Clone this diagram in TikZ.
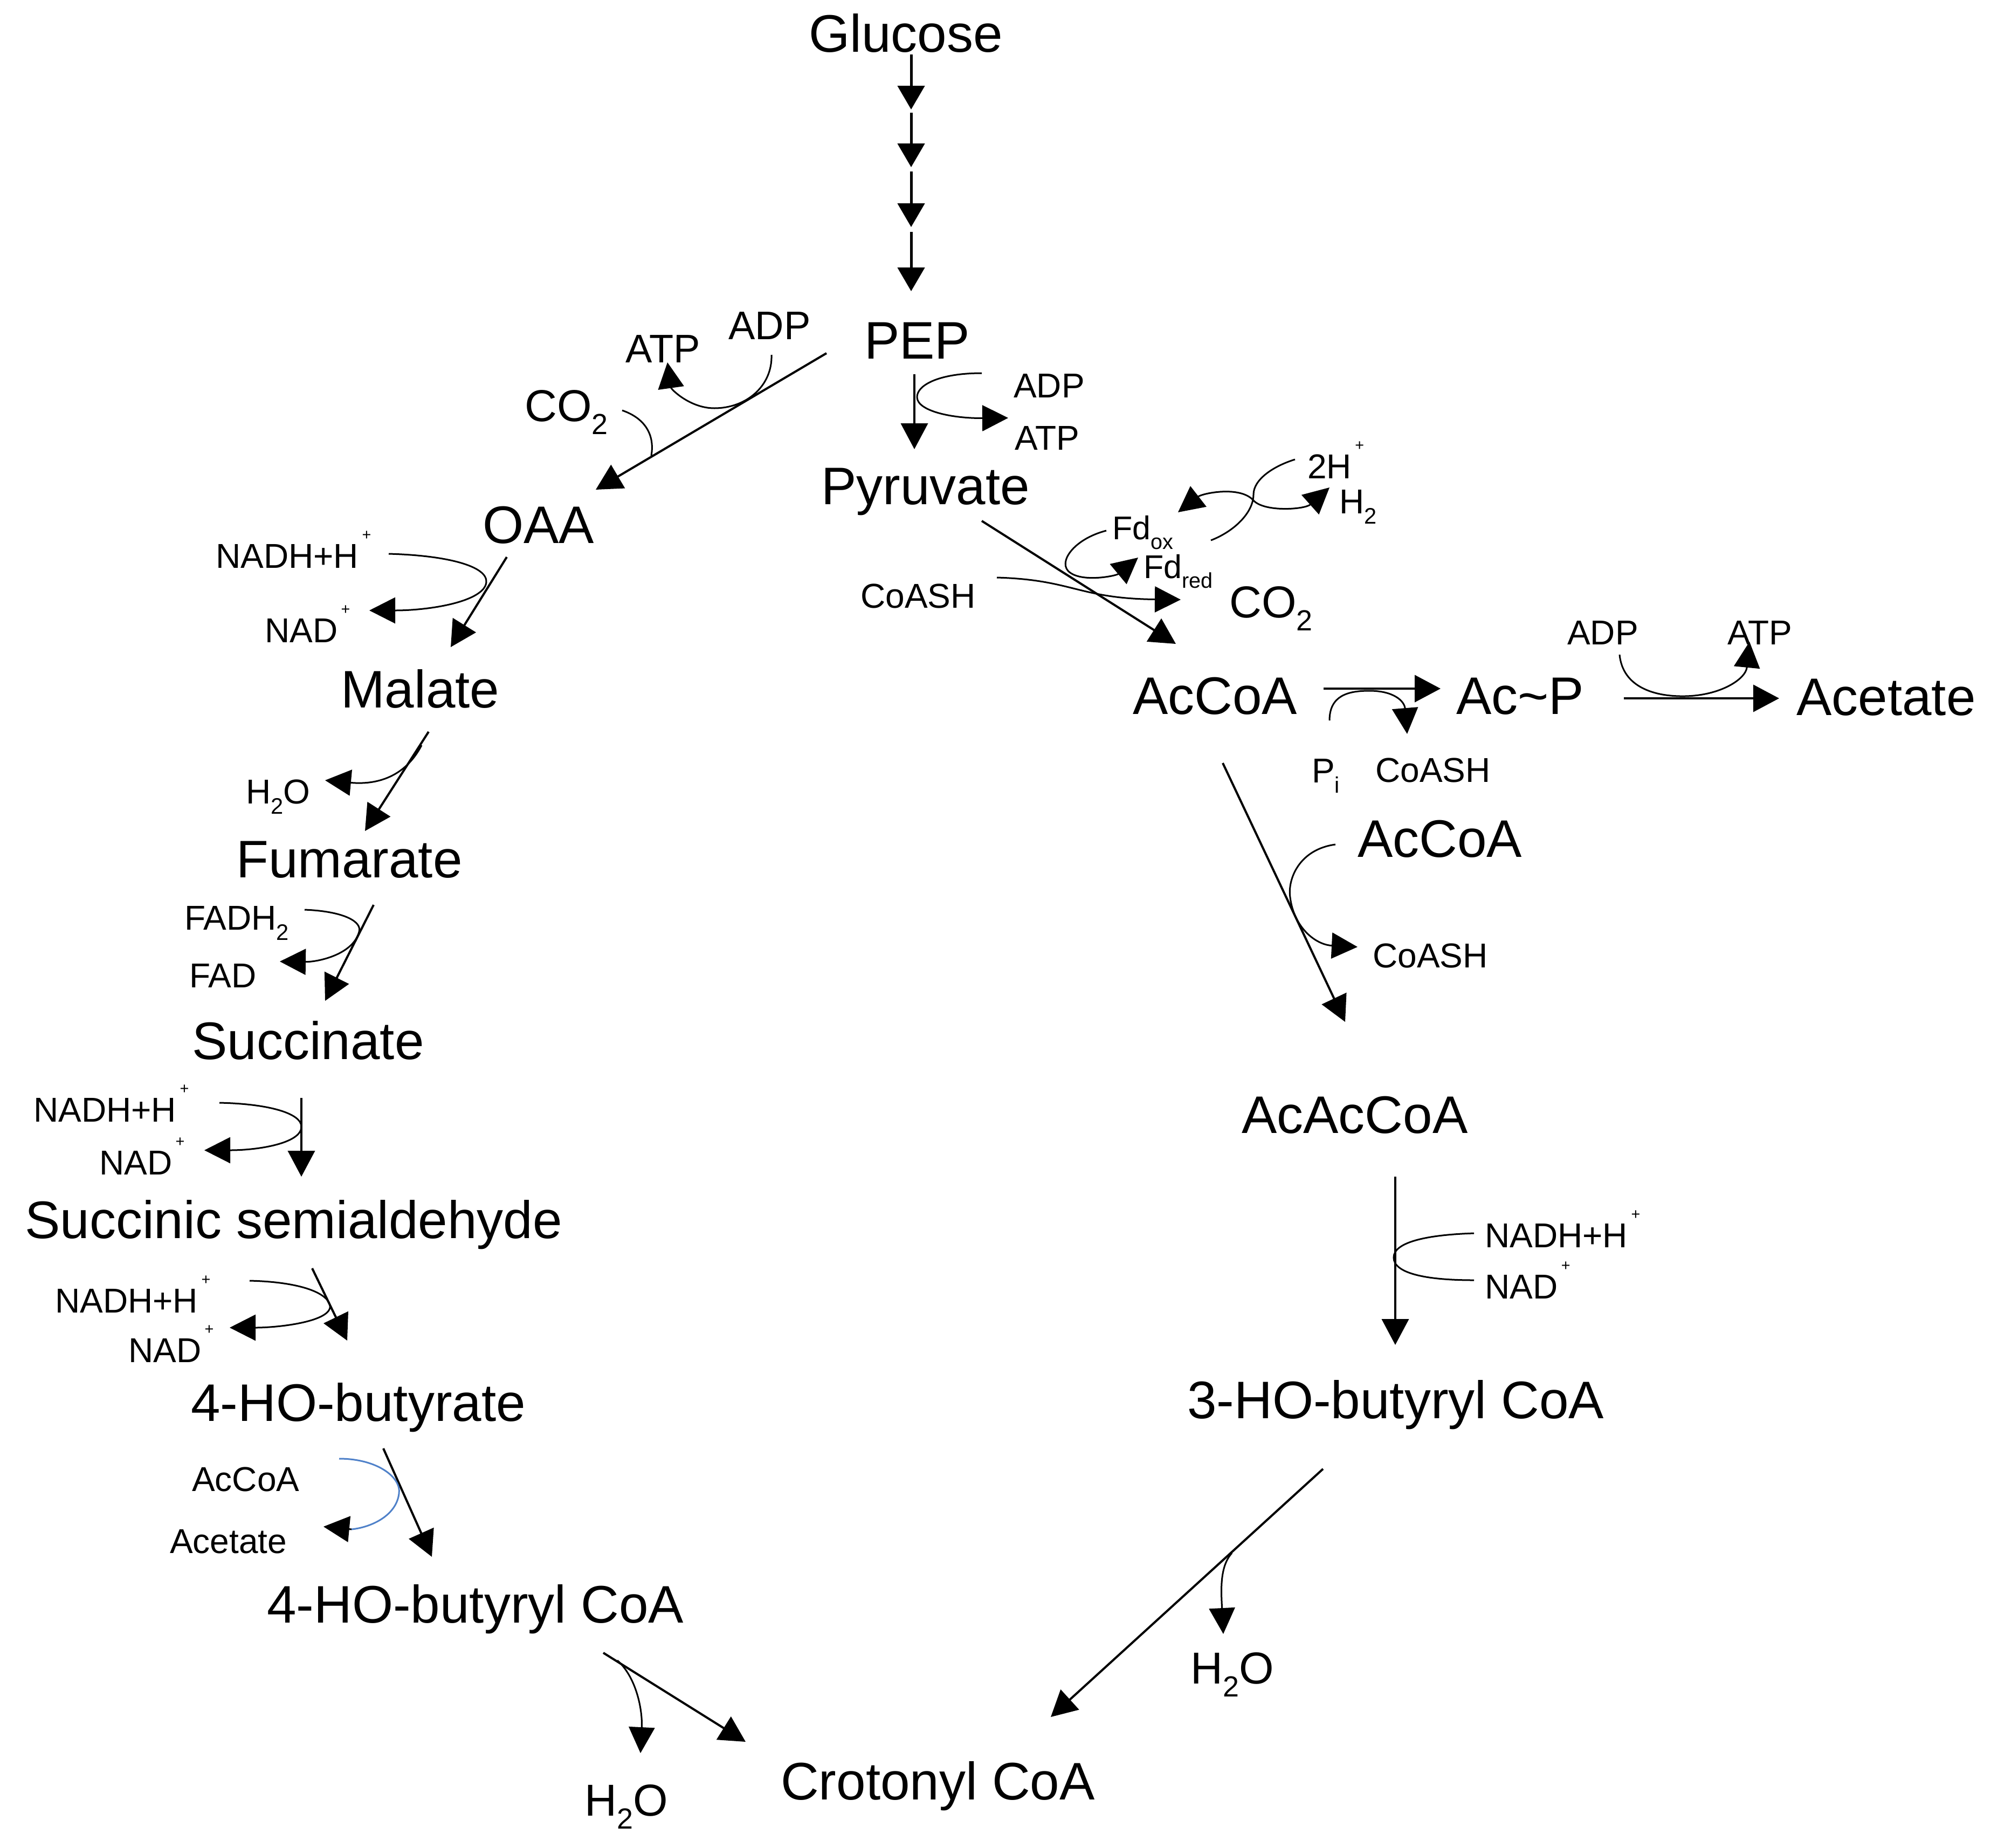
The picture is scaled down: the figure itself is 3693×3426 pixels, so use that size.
\documentclass[tikz,border=0pt]{standalone}
\usepackage{fontspec}
\setmainfont{Liberation Sans}
\usetikzlibrary{arrows.meta}
\newcommand{\lowr}[1]{\raisebox{-0.3em}{\scalebox{0.65}{#1}}}
\newcommand{\plusup}{\kern0.1em\raisebox{0.8em}{\scalebox{0.45}{+}}}
\definecolor{cfblue}{RGB}{79,129,201}
\begin{document}
\begin{tikzpicture}[x=1pt,y=-1pt,
  big/.style={inner sep=0pt, anchor=base west, font=\fontsize{98}{110}\selectfont},
  sm/.style={inner sep=0pt, anchor=base west, font=\fontsize{64}{72}\selectfont},
  fdl/.style={inner sep=0pt, anchor=base west, font=\fontsize{61}{70}\selectfont},
  md/.style={inner sep=0pt, anchor=base west, font=\fontsize{74}{84}\selectfont},
  co/.style={inner sep=0pt, anchor=base west, font=\fontsize{83}{94}\selectfont},
  rx/.style={line width=4pt, -{Triangle[length=48pt,width=50pt]}},
  rxg/.style={line width=5pt, -{Triangle[length=44pt,width=50pt]}},
  cf/.style={line width=3pt},
  cfa/.style={line width=3pt, -{Triangle[length=48pt,width=48pt]}},
  cfaa/.style={line width=3pt, {Triangle[length=48pt,width=48pt]}-{Triangle[length=48pt,width=48pt]}}
]
\fill[white] (0,0) rectangle (3693,3426);
\useasboundingbox (0,0) rectangle (3693,3426);

% ---------- main metabolites ----------
\node[big] (glc)    at (1500,96)   {Glucose};
\node[big] (pep)    at (1603,665)  {PEP};
\node[big] (pyr)    at (1523,935)  {Pyruvate};
\node[big] (oaa)    at (895,1007)  {OAA};
\node[big] (mal)    at (632,1312)  {Malate};
\node[big] (fum)    at (438,1627)  {Fumarate};
\node[big] (suc)    at (356,1964)  {Succinate};
\node[big] (ssa)    at (46,2296)   {Succinic semialdehyde};
\node[big] (hob)    at (354,2635)  {4-HO-butyrate};
\node[big] (hobc)   at (495,3009)  {4-HO-butyryl CoA};
\node[big] (crot)   at (1448,3337) {Crotonyl CoA};
\node[big] (hbc)    at (2202,2630) {3-HO-butyryl CoA};
\node[big] (acac)   at (2303,2101) {AcAcCoA};
\node[big] (accoab) at (2518,1589) {AcCoA};
\node[big] (accoa)  at (2101,1324) {AcCoA};
\node[big] (acp)    at (2701,1324) {Ac\textasciitilde P};
\node[big] (acet)   at (3332,1326) {Acetate};

% ---------- cofactors ----------
\node[md] (atpl)  at (1160,672) {ATP};
\node[md] (adpl)  at (1351,629) {ADP};
\node[co] (co2l)  at (973,781)  {CO\lowr{2}};
\node[sm] (adpr)  at (1880,737) {ADP};
\node[sm] (atpr)  at (1882,834) {ATP};
\node[sm] (nadh1) at (400,1053) {NADH+H\plusup};
\node[sm] (nad1)  at (491,1191) {NAD\plusup};
\node[sm] (h2o1)  at (456,1490) {H\lowr{2}O};
\node[sm] (fadh)  at (342,1724) {FADH\lowr{2}};
\node[sm] (fad)   at (351,1831) {FAD};
\node[sm] (nadh2) at (62,2080)  {NADH+H\plusup};
\node[sm] (nad2)  at (184,2178) {NAD\plusup};
\node[sm] (nadh3) at (102,2434) {NADH+H\plusup};
\node[sm] (nad3)  at (238,2526) {NAD\plusup};
\node[sm] (accs)  at (356,2765) {AcCoA};
\node[sm] (acets) at (315,2880) {Acetate};
\node[co] (h2ob)  at (1084,3367) {H\lowr{2}O};
\node[co] (h2oc)  at (2208,3122) {H\lowr{2}O};
\node[sm] (coash1) at (1596,1127) {CoASH};
\node[sm] (twoh)  at (2425,887) {2H\plusup};
\node[sm] (hh)    at (2484,952) {H\lowr{2}};
\node[fdl] (fdox) at (2063,1000) {Fd\lowr{ox}};
\node[fdl] (fdred) at (2121,1072) {Fd\lowr{red}};
\node[co] (co2r)  at (2280,1145) {CO\lowr{2}};
\node[sm] (adpa)  at (2907,1195) {ADP};
\node[sm] (atpa)  at (3204,1195) {ATP};
\node[sm] (pi)    at (2433,1451) {P\lowr{i}};
\node[sm] (coash2) at (2551,1450) {CoASH};
\node[sm] (coash3) at (2546,1794) {CoASH};
\node[sm] (nadh4) at (2754,2313) {NADH+H\plusup};
\node[sm] (nad4)  at (2754,2408) {NAD\plusup};

% ---------- glycolysis chain ----------
\coordinate (g0) at (1690,101);  \coordinate (g1) at (1690,203);
\coordinate (g1b) at (1690,209); \coordinate (g2) at (1690,310);
\coordinate (g2b) at (1690,318); \coordinate (g3) at (1690,421);
\coordinate (g3b) at (1690,430); \coordinate (g4) at (1690,540);
\draw[rxg] (g0) -- (g1);
\draw[rxg] (g1b) -- (g2);
\draw[rxg] (g2b) -- (g3);
\draw[rxg] (g3b) -- (g4);

% ---------- PEP -> Pyruvate ----------
\coordinate (pp0) at (1696,694); \coordinate (pp1) at (1696,833);
\draw[rx] (pp0) -- (pp1);
\draw[cfa] (1821,692) .. controls (1740,692) and (1700,715) .. (1701,737)
           .. controls (1702,762) and (1765,776) .. (1870,775);

% ---------- PEP -> OAA ----------
\coordinate (po0) at (1533,655); \coordinate (po1) at (1105,908);
\draw[rx] (po0) -- (po1);
\draw[cfa] (1431,658) .. controls (1433,715) and (1385,757) .. (1325,757)
           .. controls (1280,757) and (1245,722) .. (1238,672);
\draw[cf] (1154,761) .. controls (1195,775) and (1215,805) .. (1208,845);

% ---------- OAA -> Malate ----------
\coordinate (om0) at (940,1033); \coordinate (om1) at (836,1200);
\draw[rx] (om0) -- (om1);
\draw[cfa] (721,1027) .. controls (830,1030) and (905,1050) .. (902,1080)
           .. controls (898,1115) and (800,1132) .. (685,1132);

% ---------- Malate -> Fumarate ----------
\coordinate (mf0) at (795,1357); \coordinate (mf1) at (677,1541);
\draw[rx] (mf0) -- (mf1);
\draw[cfa] (782,1382) .. controls (752,1440) and (700,1456) .. (603,1447);

% ---------- Fumarate -> Succinate ----------
\coordinate (fs0) at (693,1678); \coordinate (fs1) at (603,1856);
\draw[rx] (fs0) -- (fs1);
\draw[cfa] (565,1687) .. controls (640,1690) and (672,1710) .. (666,1728)
           .. controls (655,1770) and (590,1784) .. (519,1783);

% ---------- Succinate -> SSA ----------
\coordinate (ss0) at (559,2036); \coordinate (ss1) at (559,2182);
\draw[rx] (ss0) -- (ss1);
\draw[cfa] (407,2045) .. controls (500,2047) and (560,2065) .. (559,2090)
           .. controls (558,2120) and (480,2133) .. (379,2133);

% ---------- SSA -> 4-HO-butyrate ----------
\coordinate (sh0) at (579,2352); \coordinate (sh1) at (644,2486);
\draw[rx] (sh0) -- (sh1);
\draw[cfa] (463,2375) .. controls (550,2377) and (605,2395) .. (612,2420)
           .. controls (618,2450) and (520,2462) .. (426,2462);

% ---------- 4-HO-butyrate -> 4-HO-butyryl CoA ----------
\coordinate (hh0) at (711,2686); \coordinate (hh1) at (801,2887);
\draw[rx] (hh0) -- (hh1);
\draw[cf, cfblue] (629,2705) .. controls (700,2705) and (745,2740) .. (740,2770)
           .. controls (735,2810) and (690,2832) .. (652,2836);
\coordinate (bl0) at (652,2836); \coordinate (bl1) at (600,2831);
\draw[cfa] (bl0) -- (bl1);

% ---------- 4-HO-butyryl CoA -> Crotonyl CoA ----------
\coordinate (hc0) at (1119,3065); \coordinate (hc1) at (1383,3230);
\draw[rx] (hc0) -- (hc1);
\draw[cfa] (1145,3079) .. controls (1180,3110) and (1192,3170) .. (1188,3251);

% ---------- Pyruvate -> AcCoA ----------
\coordinate (pa0) at (1821,966); \coordinate (pa1) at (2181,1194);
\draw[rx] (pa0) -- (pa1);
\draw[cfa] (1849,1071) .. controls (1990,1075) and (2000,1110) .. (2190,1112);
\draw[cfa] (2052,984) .. controls (1990,1000) and (1960,1045) .. (1985,1062)
           .. controls (2010,1080) and (2070,1068) .. (2111,1034);
\draw[cf] (2402,852) .. controls (2360,865) and (2325,890) .. (2325,917)
          .. controls (2325,950) and (2290,985) .. (2246,1002);
\draw[cfaa] (2185,950) .. controls (2230,915) and (2300,900) .. (2325,928)
           .. controls (2345,950) and (2420,945) .. (2466,904);

% ---------- AcCoA -> Ac~P -> Acetate ----------
\coordinate (ap0) at (2455,1277); \coordinate (ap1) at (2672,1277);
\draw[rx] (ap0) -- (ap1);
\draw[cfa] (2466,1336) .. controls (2466,1290) and (2500,1281) .. (2540,1281)
           .. controls (2585,1281) and (2605,1300) .. (2610,1361);
\coordinate (ae0) at (3012,1295); \coordinate (ae1) at (3300,1295);
\draw[rx] (ae0) -- (ae1);
\draw[cfa] (3004,1214) .. controls (3010,1275) and (3070,1292) .. (3125,1291)
           .. controls (3190,1290) and (3238,1260) .. (3245,1190);

% ---------- AcCoA -> AcAcCoA ----------
\coordinate (aa0) at (2268,1415); \coordinate (aa1) at (2495,1895);
\draw[rx] (aa0) -- (aa1);
\draw[cfa] (2477,1566) .. controls (2410,1575) and (2388,1630) .. (2393,1664)
           .. controls (2400,1720) and (2440,1752) .. (2518,1756);

% ---------- AcAcCoA -> 3-HO-butyryl CoA ----------
\coordinate (ab0) at (2588,2182); \coordinate (ab1) at (2588,2494);
\draw[rx] (ab0) -- (ab1);
\draw[cf] (2734,2287) .. controls (2640,2290) and (2585,2305) .. (2585,2332)
          .. controls (2585,2360) and (2640,2374) .. (2734,2374);

% ---------- 3-HO-butyryl CoA -> Crotonyl CoA ----------
\coordinate (bc0) at (2454,2724); \coordinate (bc1) at (1949,3184);
\draw[rx] (bc0) -- (bc1);
\draw[cfa] (2285,2880) .. controls (2262,2905) and (2265,2950) .. (2269,3030);
\end{tikzpicture}
\end{document}
